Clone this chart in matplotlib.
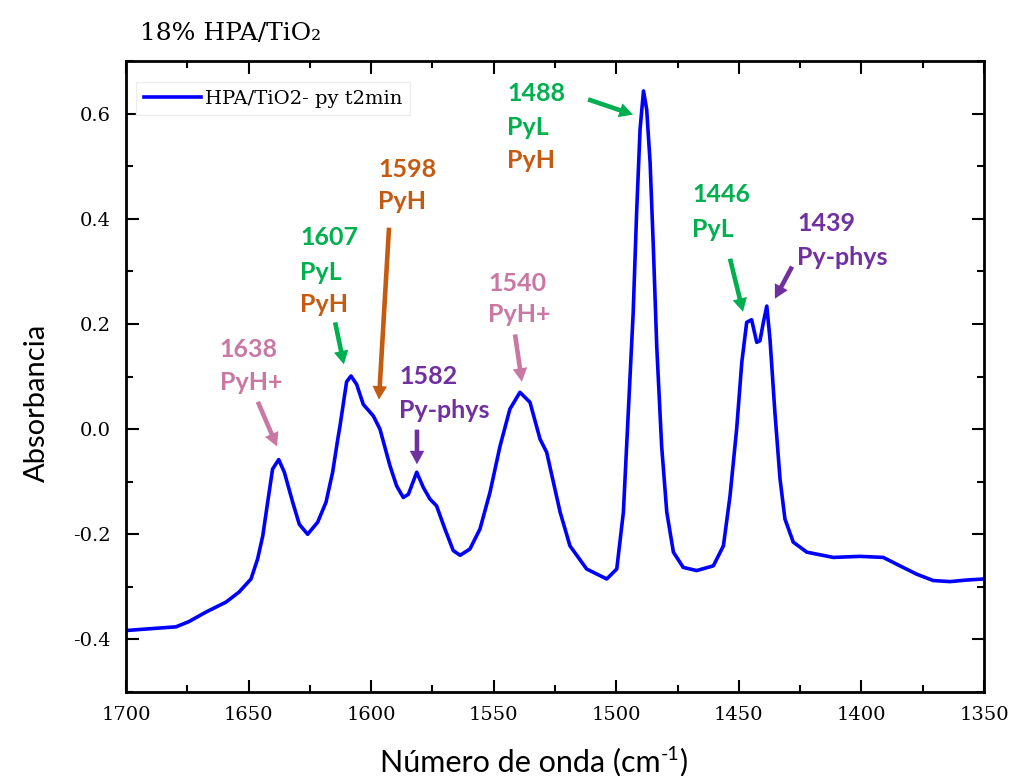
import matplotlib
matplotlib.use('Agg')
import matplotlib.pyplot as plt
from matplotlib.ticker import MultipleLocator, FormatStrFormatter

plt.rcParams['axes.unicode_minus'] = False

# spectrum (cm-1, absorbance)
wavenumber = [1700.0, 1679.6, 1674.3, 1667.4, 1659.2, 1653.9, 1649.0, 1646.3, 1644.2, 1642.2,
              1640.2, 1637.7, 1635.4, 1632.0, 1629.3, 1625.9, 1621.8, 1618.4, 1615.7, 1613.6,
              1612.7, 1610.0, 1608.2, 1605.9, 1603.2, 1599.1, 1596.4, 1592.3, 1589.6, 1586.9,
              1584.8, 1581.4, 1578.7, 1576.0, 1573.3, 1569.9, 1566.5, 1563.7, 1559.7, 1555.6,
              1551.5, 1547.4, 1543.4, 1539.3, 1535.2, 1531.1, 1528.4, 1522.9, 1518.9, 1512.1,
              1503.9, 1499.8, 1497.1, 1495.1, 1493.1, 1491.7, 1490.3, 1488.9, 1487.6, 1486.2,
              1484.9, 1483.5, 1481.5, 1479.4, 1476.7, 1472.7, 1467.2, 1460.4, 1456.3, 1453.6,
              1450.9, 1448.8, 1446.8, 1444.8, 1442.7, 1441.4, 1440.0, 1438.6, 1437.3, 1435.3,
              1433.2, 1431.2, 1427.8, 1422.3, 1411.5, 1400.6, 1391.1, 1384.3, 1377.4, 1370.7,
              1363.9, 1357.0, 1350.0]
absorbance = [-0.383, -0.376, -0.366, -0.348, -0.329, -0.310, -0.285, -0.247, -0.203, -0.139,
              -0.076, -0.058, -0.082, -0.139, -0.181, -0.200, -0.177, -0.139, -0.082, -0.019,
              0.006, 0.090, 0.101, 0.085, 0.047, 0.025, 0.000, -0.070, -0.108, -0.130,
              -0.124, -0.082, -0.111, -0.133, -0.146, -0.190, -0.231, -0.240, -0.228, -0.190,
              -0.120, -0.032, 0.038, 0.070, 0.051, -0.019, -0.044, -0.158, -0.222, -0.266,
              -0.285, -0.266, -0.158, 0.032, 0.222, 0.412, 0.570, 0.643, 0.608, 0.507,
              0.348, 0.158, -0.032, -0.158, -0.234, -0.263, -0.269, -0.260, -0.222, -0.127,
              0.000, 0.127, 0.203, 0.208, 0.165, 0.168, 0.203, 0.234, 0.171, 0.032,
              -0.095, -0.171, -0.215, -0.234, -0.244, -0.242, -0.244, -0.260, -0.276, -0.288,
              -0.290, -0.287, -0.285]

GREEN = '#00b050'
ORANGE = '#c55a11'
PINK = '#c978a3'
PURPLE = '#7030a0'

# band labels: left x, text lines (baseline y, text, colour), arrow tail, arrow head, arrow colour
bands = [
    (1661.7, [(0.137, '1638', PINK), (0.075, 'PyH+', PINK)],
     (1646.2, 0.052), (1638.4, -0.033), PINK),
    (1629.0, [(0.351, '1607', GREEN), (0.284, 'PyL', GREEN), (0.222, 'PyH', ORANGE)],
     (1614.7, 0.203), (1611.1, 0.123), GREEN),
    (1597.2, [(0.480, '1598', ORANGE), (0.418, 'PyH', ORANGE)],
     (1592.7, 0.383), (1596.8, 0.056), ORANGE),
    (1588.6, [(0.085, '1582', PURPLE), (0.022, 'Py-phys', PURPLE)],
     (1581.3, -0.001), (1581.3, -0.067), PURPLE),
    (1552.3, [(0.262, '1540', PINK), (0.203, 'PyH+', PINK)],
     (1541.3, 0.180), (1538.5, 0.090), PINK),
    (1544.6, [(0.623, '1488', GREEN), (0.560, 'PyL', GREEN), (0.497, 'PyH', ORANGE)],
     (1511.5, 0.627), (1493.2, 0.598), GREEN),
    (1469.1, [(0.431, '1446', GREEN), (0.366, 'PyL', GREEN)],
     (1453.6, 0.324), (1448.3, 0.223), GREEN),
    (1426.3, [(0.376, '1439', PURPLE), (0.313, 'Py-phys', PURPLE)],
     (1428.3, 0.309), (1435.3, 0.248), PURPLE),
]

W, H = 1011, 776
fig = plt.figure(figsize=(W / 100, H / 100), dpi=100)
ax = fig.add_axes([0.1246, 0.1082, 0.8487, 0.8132])

ax.plot(wavenumber, absorbance, color='#0000ff', lw=2.6, label='HPA/TiO2- py t2min',
        solid_joinstyle='round')

for x0, lines, tail, head, acol in bands:
    for yb, txt, col in lines:
        ax.text(x0, yb, txt, color=col, fontsize=18, fontfamily='Lato', fontweight='bold',
                ha='left', va='baseline')
    ax.annotate('', xy=head, xytext=tail,
                arrowprops=dict(arrowstyle='simple,head_length=0.65,head_width=0.7,tail_width=0.22',
                                color=acol, lw=0, shrinkA=0, shrinkB=0, mutation_scale=15))

ax.set_xlim(1700, 1350)
ax.set_ylim(-0.5, 0.7)
ax.xaxis.set_major_locator(MultipleLocator(50))
ax.xaxis.set_minor_locator(MultipleLocator(25))
ax.yaxis.set_major_locator(MultipleLocator(0.2))
ax.yaxis.set_minor_locator(MultipleLocator(0.1))
ax.yaxis.set_major_formatter(FormatStrFormatter('%.1f'))

ax.tick_params(which='both', direction='in', top=True, right=True, width=1.5)
ax.tick_params(which='major', length=9)
ax.tick_params(which='minor', length=5)
ax.tick_params(axis='x', which='major', pad=10)
ax.tick_params(axis='y', which='major', pad=11)
for lab in ax.get_xticklabels() + ax.get_yticklabels():
    lab.set_fontfamily('DejaVu Serif')
    lab.set_fontsize(14)
for sp in ax.spines.values():
    sp.set_linewidth(2)

leg = ax.legend(loc='upper left', bbox_to_anchor=(0.012, 0.967), borderaxespad=0,
                prop={'family': 'DejaVu Serif', 'size': 14}, handlelength=2.95,
                handletextpad=0.2, fancybox=False, framealpha=1, borderpad=0.4)
leg.get_frame().set_edgecolor('#ececec')
leg.get_frame().set_linewidth(1)

fig.text(140 / W, 1 - 40 / H, '18% HPA/TiO\u2082', fontfamily='DejaVu Serif', fontsize=18,
         ha='left', va='baseline')

# x label with a plain hyphen in the superscript, built from three pieces
r = fig.canvas.get_renderer()
base_y = 1 - 771 / H
p1 = fig.text(0, base_y, 'Número de onda (cm', fontfamily='Lato', fontsize=22, va='baseline')
p2 = fig.text(0, base_y + 11 / H, '-1', fontfamily='Lato', fontsize=14, va='baseline')
p3 = fig.text(0, base_y, ')', fontfamily='Lato', fontsize=22, va='baseline')
w1 = p1.get_window_extent(r).width
w2 = p2.get_window_extent(r).width
w3 = p3.get_window_extent(r).width
x_start = 534 - (w1 + w2 + w3) / 2
p1.set_x(x_start / W)
p2.set_x((x_start + w1) / W)
p3.set_x((x_start + w1 + w2) / W)

fig.text(45 / W, 1 - 403 / H, 'Absorbancia', fontfamily='Lato', fontsize=21,
         rotation=90, ha='center', va='baseline', rotation_mode='anchor')

fig.savefig('out.png', dpi=100)
